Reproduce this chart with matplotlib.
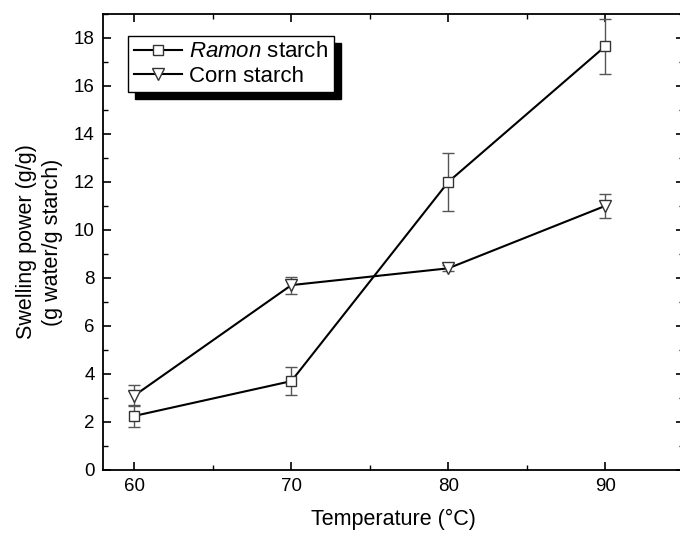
import numpy as np
import matplotlib.pyplot as plt
from matplotlib.ticker import MultipleLocator

plt.rcParams['font.family'] = ['Liberation Sans', 'DejaVu Sans']
plt.rcParams['mathtext.fontset'] = 'custom'
plt.rcParams['mathtext.rm'] = 'Liberation Sans'
plt.rcParams['mathtext.it'] = 'Liberation Sans:italic'

temps = [60, 70, 80, 90]
ramon = [2.25, 3.7, 12.0, 17.65]
ramon_err = [0.45, 0.58, 1.2, 1.15]
corn = [3.1, 7.7, 8.4, 11.0]
corn_err = [0.42, 0.35, 0.12, 0.5]

fig = plt.figure(figsize=(6.8, 5.34), dpi=100)
ax = fig.add_axes([0.1515, 0.12, 0.854, 0.854])

# error bars (drawn separately so legend shows only line + marker)
for y, e in [(ramon, ramon_err), (corn, corn_err)]:
    ax.errorbar(temps, y, yerr=e, fmt='none', ecolor='#555555',
                elinewidth=1.0, capsize=4, capthick=1.0)

ax.plot(temps, ramon, color='black', lw=1.5, marker='s', ms=7,
        mfc='white', mec='#333333', mew=1.0, label=r'$\it{Ramon}$ starch')
ax.plot(temps, corn, color='black', lw=1.5, marker='v', ms=9,
        mfc='white', mec='#333333', mew=1.0, label='Corn starch')

ax.set_xlim(58, 95)
ax.set_ylim(0, 19)
ax.xaxis.set_major_locator(MultipleLocator(10))
ax.xaxis.set_minor_locator(MultipleLocator(5))
ax.yaxis.set_major_locator(MultipleLocator(2))
ax.yaxis.set_minor_locator(MultipleLocator(1))
ax.tick_params(which='both', direction='in', top=True, right=True, labelsize=13.5)
ax.tick_params(which='major', length=6, width=1.2, pad=6)
ax.tick_params(which='minor', length=3.5, width=1.0)
for s in ax.spines.values():
    s.set_linewidth(1.3)

ax.set_xlabel('Temperature (°C)', fontsize=15.5, labelpad=10)
ax.set_ylabel('Swelling power (g/g)\n(g water/g starch)', fontsize=15.5,
              labelpad=8, linespacing=1.3)

leg = ax.legend(loc='upper left', bbox_to_anchor=(0.043, 0.952), borderaxespad=0,
                fontsize=16, fancybox=False, frameon=True, edgecolor='black',
                shadow={'color': 'black', 'alpha': 1, 'ox': 5, 'oy': -5},
                handlelength=2.2, handletextpad=0.3, borderpad=0.25, labelspacing=0.15)
leg.get_frame().set_linewidth(1.0)

fig.savefig('out.png', dpi=100)
